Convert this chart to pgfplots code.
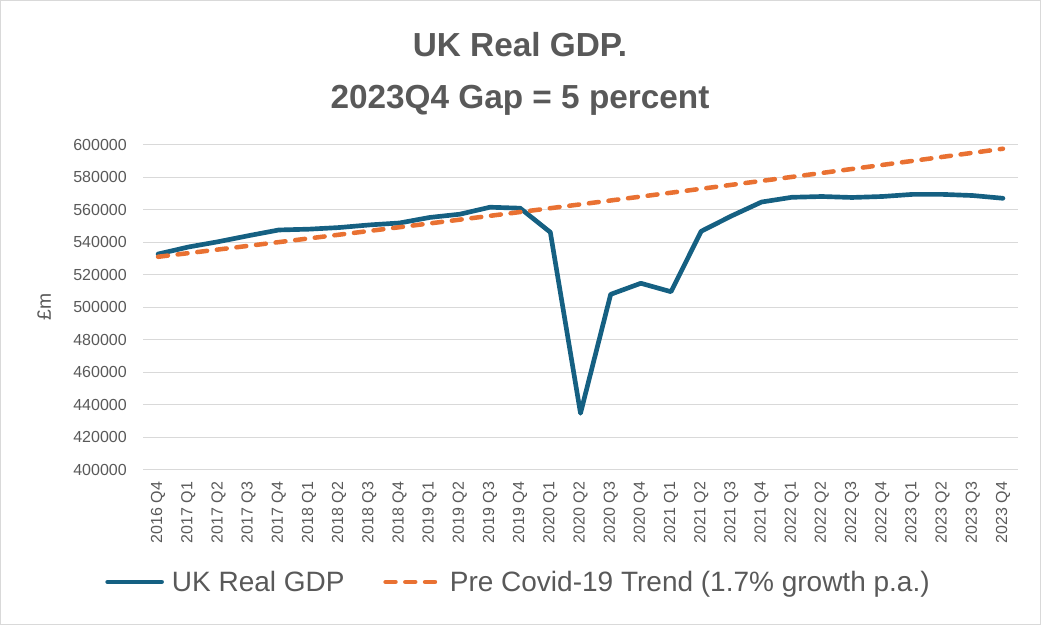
\documentclass[border=0pt]{standalone}
\usepackage{pgfplots}
\pgfplotsset{compat=1.18}
\usepackage{fontspec}
\setmainfont{Liberation Sans}

\definecolor{gdpblue}{HTML}{156082}
\definecolor{trendorange}{HTML}{E97132}
\definecolor{textgray}{HTML}{595959}
\definecolor{gridgray}{HTML}{D9D9D9}

\begin{document}
\begin{tikzpicture}
% whole chart area, 1041 x 625 px at 0.75pt per px
\useasboundingbox (0,0) rectangle (780.75pt,468.75pt);
\draw[gridgray, line width=1pt] (0.5pt,0.5pt) rectangle (780.25pt,468.25pt);

\node[font=\bfseries\fontsize{25}{39}\selectfont, text=textgray, align=center]
  at (390pt,413.5pt) {UK Real GDP.\\2023Q4 Gap = 5 percent};

\node[rotate=90, font=\fontsize{14.5}{16}\selectfont, text=textgray]
  at (33pt,238.5pt) {£m};

\begin{axis}[
    at={(107.25pt,116.5pt)}, anchor=south west,
    scale only axis,
    width=656.25pt, height=243.75pt,
    xmin=-0.5, xmax=28.5,
    ymin=400000, ymax=600000,
    ytick={400000,420000,...,600000},
    scaled y ticks=false,
    xtick={0,...,28},
    xticklabels={2016 Q4,2017 Q1,2017 Q2,2017 Q3,2017 Q4,2018 Q1,2018 Q2,2018 Q3,2018 Q4,
      2019 Q1,2019 Q2,2019 Q3,2019 Q4,2020 Q1,2020 Q2,2020 Q3,2020 Q4,2021 Q1,2021 Q2,
      2021 Q3,2021 Q4,2022 Q1,2022 Q2,2022 Q3,2022 Q4,2023 Q1,2023 Q2,2023 Q3,2023 Q4},
    major tick length=0pt,
    ymajorgrids,
    grid style={gridgray, line width=0.9pt},
    separate axis lines,
    axis x line*=bottom,
    axis y line*=left,
    x axis line style={gridgray, line width=0.9pt, -},
    y axis line style={draw=none},
    /pgf/number format/.cd, fixed, 1000 sep={}, assume math mode=true,
    /pgfplots/.cd,
    yticklabel style={font=\fontsize{12}{14}\selectfont, text=textgray, anchor=east, inner sep=0pt},
    xticklabel style={font=\fontsize{12}{14}\selectfont, text=textgray, rotate=90, anchor=east, inner sep=0pt},
    yticklabel shift=12pt,
    xticklabel shift=9pt,
    legend columns=2,
    legend style={at={(-0.0434,-0.3455)}, anchor=west, draw=none, fill=none,
      font=\fontsize{21}{24}\selectfont, text=textgray, inner xsep=0pt,
      column sep=4pt,
      /tikz/every even column/.append style={column sep=27pt}},
    legend cell align=left,
    legend image code/.code={\draw[#1] (0pt,0pt) -- (40.5pt,0pt);},
]
\addplot[gdpblue, line width=3.5pt, line join=round, line cap=round] coordinates {
  (0,532700) (1,537000) (2,540300) (3,544000) (4,547500) (5,548000) (6,549000)
  (7,550600) (8,551800) (9,555200) (10,557200) (11,561500) (12,560900) (13,546100)
  (14,434700) (15,507900) (16,514700) (17,509500) (18,546700) (19,556100) (20,564700)
  (21,567600) (22,568100) (23,567500) (24,568100) (25,569400) (26,569400) (27,568700)
  (28,567000)
};
\addlegendentry{UK Real GDP}
\addplot[trendorange, line width=3.4pt, line cap=round, dash pattern=on 7.4pt off 7.4pt] coordinates {
  (0,531000) (1,533242) (2,535494) (3,537756) (4,540027) (5,542308) (6,544598)
  (7,546898) (8,549208) (9,551527) (10,553856) (11,556195) (12,558544) (13,560903)
  (14,563272) (15,565651) (16,568040) (17,570439) (18,572848) (19,575267) (20,577697)
  (21,580137) (22,582587) (23,585047) (24,587518) (25,589999) (26,592491) (27,594993)
  (28,597506)
};
\addlegendentry{Pre Covid-19 Trend (1.7\% growth p.a.)}
\end{axis}
\end{tikzpicture}
\end{document}
